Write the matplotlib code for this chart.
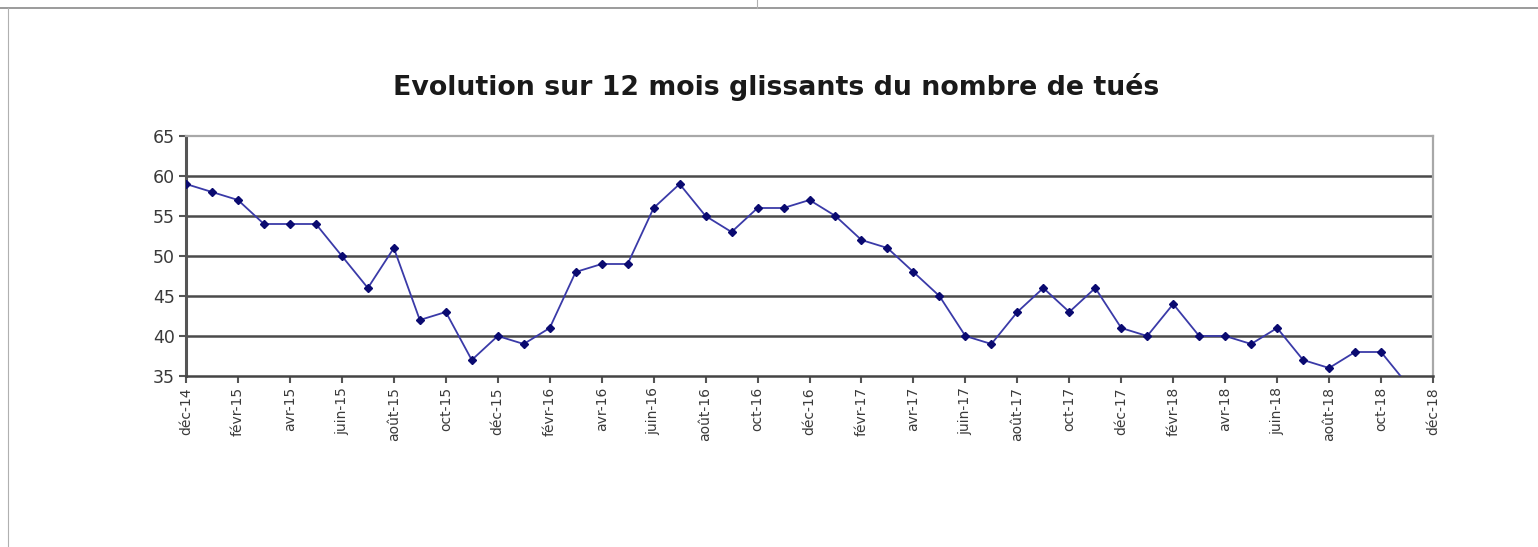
import matplotlib
matplotlib.use("Agg")
import matplotlib.pyplot as plt
from matplotlib.lines import Line2D

plt.rcParams['font.family'] = ['DejaVu Sans']

months = ["déc-14", "janv-15", "févr-15", "mars-15", "avr-15", "mai-15", "juin-15", "juil-15",
          "août-15", "sept-15", "oct-15", "nov-15", "déc-15", "janv-16", "févr-16", "mars-16",
          "avr-16", "mai-16", "juin-16", "juil-16", "août-16", "sept-16", "oct-16", "nov-16",
          "déc-16", "janv-17", "févr-17", "mars-17", "avr-17", "mai-17", "juin-17", "juil-17",
          "août-17", "sept-17", "oct-17", "nov-17", "déc-17", "janv-18", "févr-18", "mars-18",
          "avr-18", "mai-18", "juin-18", "juil-18", "août-18", "sept-18", "oct-18", "nov-18"]
tues = [59, 58, 57, 54, 54, 54, 50, 46, 51, 42, 43, 37, 40, 39, 41, 48, 49, 49, 56, 59, 55, 53,
        56, 56, 57, 55, 52, 51, 48, 45, 40, 39, 43, 46, 43, 46, 41, 40, 44, 40, 40, 39, 41, 37,
        36, 38, 38, 34]
tick_labels = ["déc-14", "févr-15", "avr-15", "juin-15", "août-15", "oct-15", "déc-15",
               "févr-16", "avr-16", "juin-16", "août-16", "oct-16", "déc-16", "févr-17",
               "avr-17", "juin-17", "août-17", "oct-17", "déc-17", "févr-18", "avr-18",
               "juin-18", "août-18", "oct-18", "déc-18"]
y_ticks = [35, 40, 45, 50, 55, 60, 65]
title = "Evolution sur 12 mois glissants du nombre de tués"

W, H = 1538, 547
fig = plt.figure(figsize=(W / 100, H / 100), dpi=100)
fig.patch.set_facecolor("white")

# outer page frame lines
fig.add_artist(Line2D([0, 1], [1 - 8 / H, 1 - 8 / H], color="#8a8a8a", lw=1.2, transform=fig.transFigure))
fig.add_artist(Line2D([757 / W, 757 / W], [1 - 8 / H, 1], color="#b0b0b0", lw=0.8, transform=fig.transFigure))
fig.add_artist(Line2D([8 / W, 8 / W], [0, 1 - 8 / H], color="#b0b0b0", lw=0.8, transform=fig.transFigure))

left, right, top, bottom = 186, 1433, 136, 376
ax = fig.add_axes([left / W, 1 - bottom / H, (right - left) / W, (bottom - top) / H])

x = list(range(len(tues)))
ax.plot(x, tues, color="#3a3aa8", lw=1.3, marker="D", markersize=3.8,
        markerfacecolor="#0a0a70", markeredgecolor="#0a0a70", zorder=3, clip_on=True)

ax.set_xlim(0, 48)
ax.set_ylim(35, 65)
ax.set_yticks(y_ticks)
ax.set_yticklabels([str(v) for v in y_ticks], fontsize=12.5, color="#3a3a3a")
ax.set_xticks(range(0, 49, 2))
ax.set_xticklabels(tick_labels, rotation=90, fontsize=10, color="#3a3a3a")

for v in [40, 45, 50, 55, 60]:
    ax.axhline(v, color="#4a4a4a", lw=1.8, zorder=1)

for s in ["top", "right"]:
    ax.spines[s].set_color("#a8a8a8")
    ax.spines[s].set_linewidth(1.6)
ax.spines["left"].set_color("#555555")
ax.spines["left"].set_linewidth(2.2)
ax.spines["bottom"].set_color("#444444")
ax.spines["bottom"].set_linewidth(1.8)

ax.tick_params(axis="both", direction="out", length=5, width=1.5, color="#555555", pad=3)

fig.text(776 / W, 1 - 95 / H, title, ha="center", va="baseline", fontsize=19.3,
         fontweight="bold", color="#1a1a1a")

fig.savefig("out.png", dpi=100, facecolor="white")
